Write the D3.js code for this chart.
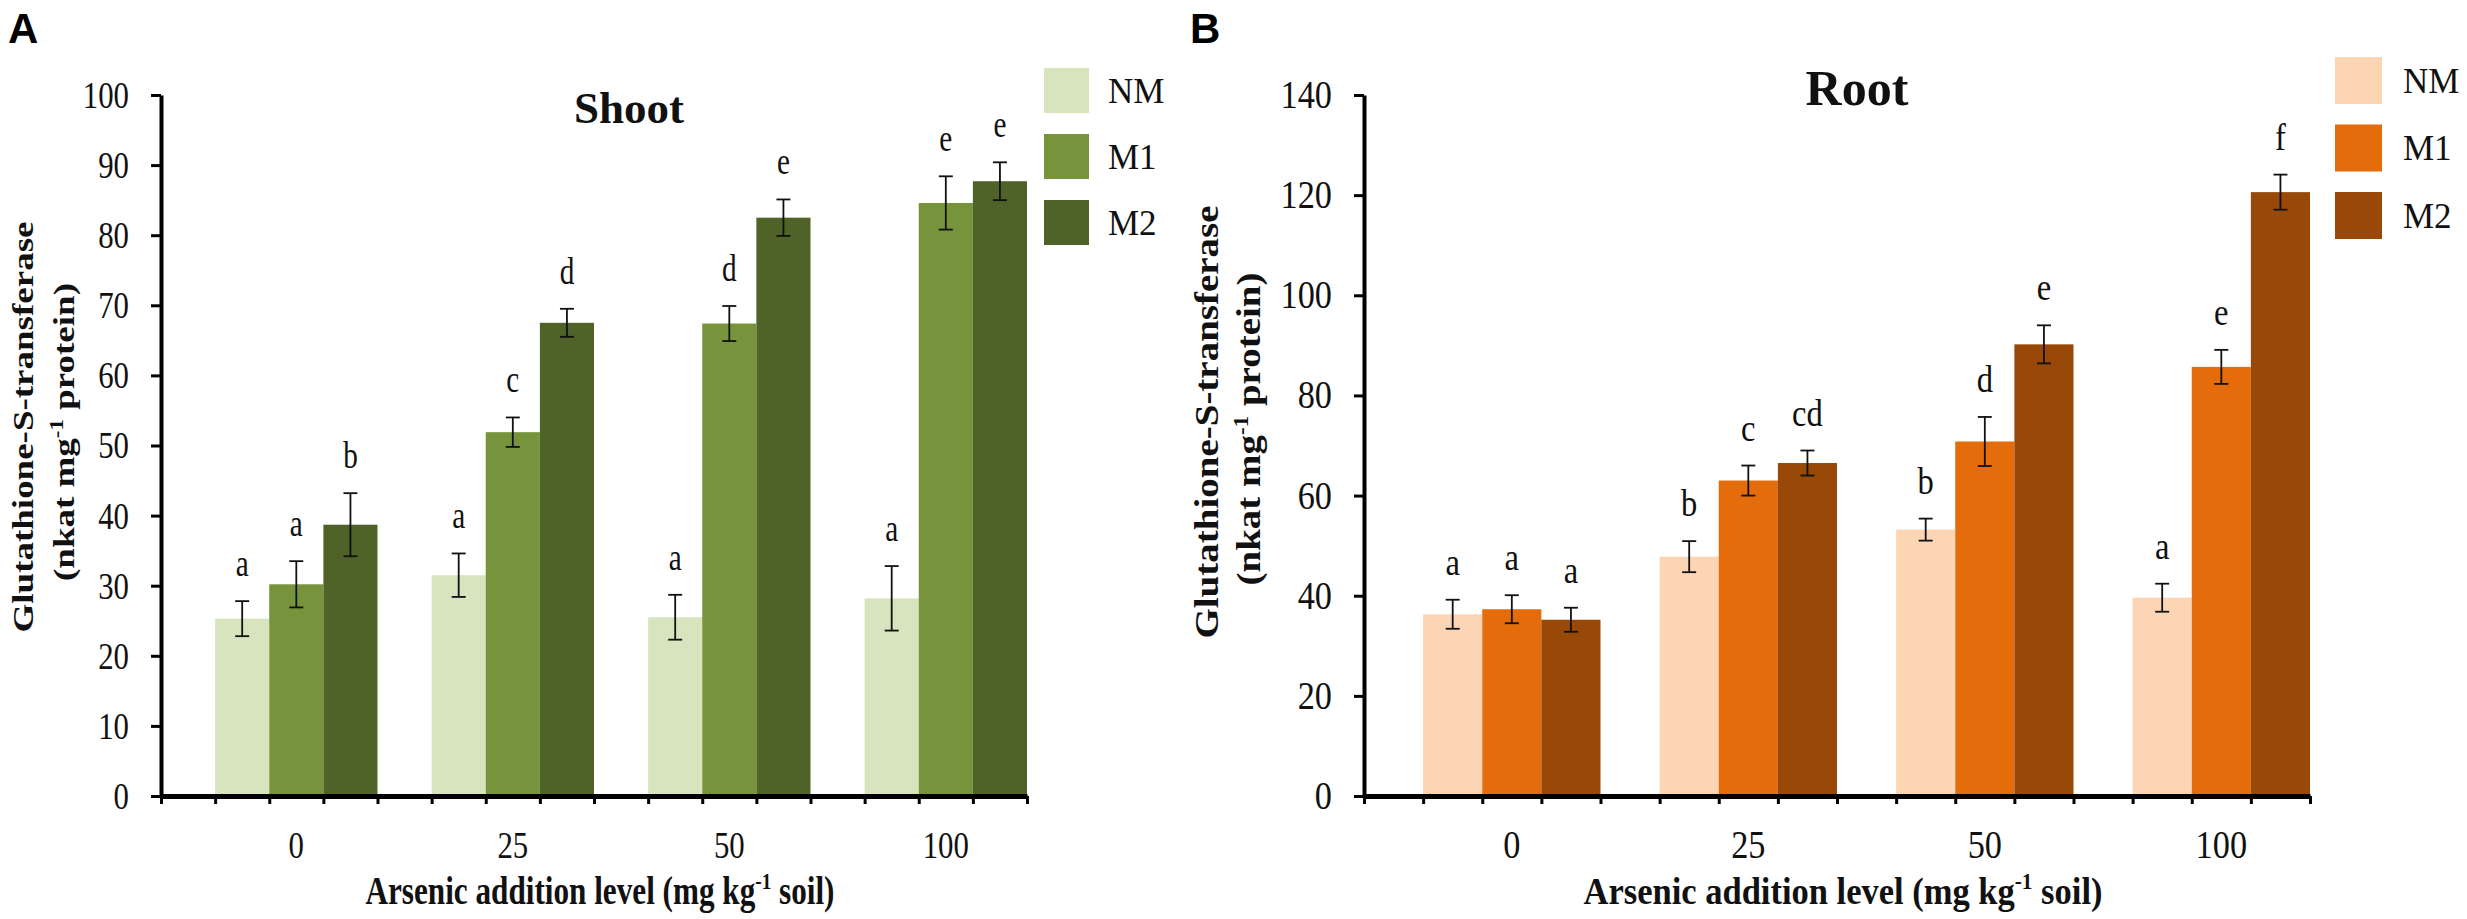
<!DOCTYPE html>
<html>
<head>
<meta charset="utf-8">
<script src="https://cdn.jsdelivr.net/npm/d3@7/dist/d3.min.js"></script>
<style>
  body { margin: 0; background: #fff; }
  svg { display: block; }
</style>
</head>
<body>
<div id="svg"></div>
<script>

// arsenic levels (x categories) and inoculation treatments
var levels = ["0", "25", "50", "100"];
var treatments = ["NM", "M1", "M2"];

// shoot, one row per treatment (NM, M1, M2), one column per level
var shootMean = [[25.3, 31.5, 25.5, 28.2],
                 [30.2, 51.9, 67.4, 84.6],
                 [38.7, 67.5, 82.5, 87.7]];
var shootErr = [[2.5, 3.1, 3.2, 4.6],
                [3.3, 2.1, 2.5, 3.8],
                [4.5, 2.0, 2.6, 2.7]];
var shootLetters = [["a", "a", "a", "a"],
                    ["a", "c", "d", "e"],
                    ["b", "d", "e", "e"]];
var shootTicks = [0, 10, 20, 30, 40, 50, 60, 70, 80, 90, 100];
var shootColors = ["#d7e4bd", "#77933c", "#4f6228"];

// root
var rootMean = [[36.3, 47.8, 53.2, 39.6],
                [37.3, 63.0, 70.8, 85.7],
                [35.2, 66.5, 90.2, 120.6]];
var rootErr = [[2.9, 3.1, 2.2, 2.8],
               [2.8, 3.0, 4.9, 3.4],
               [2.4, 2.5, 3.8, 3.5]];
var rootLetters = [["a", "b", "b", "a"],
                   ["a", "c", "d", "e"],
                   ["a", "cd", "e", "f"]];
var rootTicks = [0, 20, 40, 60, 80, 100, 120, 140];
var rootColors = ["#fcd5b5", "#e46c0a", "#984807"];


var W = 2467, H = 919;
var serif = "'Liberation Serif', 'Times New Roman', serif";
var sans = "'Liberation Sans', Arial, sans-serif";

var svg = d3.select("#svg").append("svg")
    .attr("width", W)
    .attr("height", H);

svg.append("rect")
    .attr("width", W)
    .attr("height", H)
    .attr("fill", "#fff");


// layout of the two panels (sq = horizontal squeeze of the text)
var panels = [
    {tag: "A", tagX: 8, title: "Shoot", titleX: 629, titleY: 123, titleSize: 45,
     x0: 161, x1: 1027, yTop: 95, yBot: 796, ticks: shootTicks,
     mean: shootMean, err: shootErr, letters: shootLetters, colors: shootColors,
     sq: 0.79, xtSq: 0.80, ytX: [33, 74], ytSize: 37, ytY: [427, 432],
     leg: {x: 1044, y: 68, size: 45, gap: 66, tx: 1108}},
    {tag: "B", tagX: 1190, title: "Root", titleX: 1857, titleY: 105, titleSize: 50,
     x0: 1364, x1: 2310, yTop: 95, yBot: 796, ticks: rootTicks,
     mean: rootMean, err: rootErr, letters: rootLetters, colors: rootColors,
     sq: 0.88, xtSq: 0.885, ytX: [1218, 1260], ytSize: 39, ytY: [422, 429],
     leg: {x: 2335, y: 57, size: 47, gap: 67.5, tx: 2403}}
];

panels.forEach(draw_panel);


function draw_panel(p) {
    var g = svg.append("g");
    var ymax = d3.max(p.ticks);

    var y = d3.scaleLinear()
        .domain([0, ymax])
        .range([p.yBot, p.yTop]);

    // groups take 4 slots: one empty slot on the left, then 3 bars
    var xg = d3.scaleBand()
        .domain(levels)
        .range([p.x0, p.x1])
        .paddingInner(0.25)
        .paddingOuter(0.125)
        .align(1);
    var xb = d3.scaleBand()
        .domain(treatments)
        .range([0, xg.bandwidth()]);
    var slots = d3.scaleLinear()
        .domain([0, 16])
        .range([p.x0, p.x1]);

    // bars, error bars and letters, one series at a time
    treatments.forEach(function(t, ti) {
        var rows = levels.map(function(l, li) {
            return {level: l, v: p.mean[ti][li], e: p.err[ti][li], lab: p.letters[ti][li]};
        });
        var sg = g.append("g");
        sg.selectAll("rect")
            .data(rows)
            .enter().append("rect")
            .attr("x", function(d) { return xg(d.level) + xb(t); })
            .attr("y", function(d) { return y(d.v); })
            .attr("width", xb.bandwidth())
            .attr("height", function(d) { return y(0) - y(d.v); })
            .attr("fill", p.colors[ti]);

        var cx = function(d) { return xg(d.level) + xb(t) + xb.bandwidth() / 2; };
        var eb = sg.selectAll("g.eb")
            .data(rows)
            .enter().append("g")
            .attr("class", "eb")
            .attr("stroke", "#111")
            .attr("stroke-width", 1.8);
        eb.append("line")
            .attr("x1", cx).attr("x2", cx)
            .attr("y1", function(d) { return y(d.v + d.e); })
            .attr("y2", function(d) { return y(d.v - d.e); });
        eb.append("line")
            .attr("x1", function(d) { return cx(d) - 7; })
            .attr("x2", function(d) { return cx(d) + 7; })
            .attr("y1", function(d) { return y(d.v + d.e); })
            .attr("y2", function(d) { return y(d.v + d.e); });
        eb.append("line")
            .attr("x1", function(d) { return cx(d) - 7; })
            .attr("x2", function(d) { return cx(d) + 7; })
            .attr("y1", function(d) { return y(d.v - d.e); })
            .attr("y2", function(d) { return y(d.v - d.e); });

        sg.selectAll("text")
            .data(rows)
            .enter().append("text")
            .attr("transform", function(d) {
                return "translate(" + cx(d) + "," + (y(d.v + d.e) - 25) + ") scale(" + p.sq + ",1)";
            })
            .attr("text-anchor", "middle")
            .attr("font-family", serif)
            .attr("font-size", 37)
            .attr("fill", "#111")
            .text(function(d) { return d.lab; });
    });

    // y axis
    var ya = g.append("g")
        .attr("transform", "translate(" + p.x0 + ",0)")
        .call(d3.axisLeft(y).tickValues(p.ticks).tickSize(10).tickSizeOuter(0));
    ya.select(".domain").attr("stroke", "#000").attr("stroke-width", 4);
    ya.selectAll(".tick line").attr("stroke", "#000").attr("stroke-width", 3);
    ya.selectAll(".tick text")
        .attr("font-family", serif)
        .attr("font-size", 39)
        .attr("fill", "#111")
        .attr("x", -32 / p.sq)
        .attr("transform", "scale(" + p.sq + ",1)");

    // x axis, a tick at every slot edge
    var xa = g.append("g")
        .attr("transform", "translate(0," + p.yBot + ")")
        .call(d3.axisBottom(slots).tickValues(d3.range(17)).tickFormat("").tickSize(8).tickSizeOuter(0));
    xa.select(".domain").attr("stroke", "#000").attr("stroke-width", 5);
    xa.selectAll(".tick line").attr("stroke", "#000").attr("stroke-width", 3);

    // category labels
    var xl = g.append("g")
        .attr("transform", "translate(0," + p.yBot + ")")
        .call(d3.axisBottom(xg).tickSize(0));
    xl.select(".domain").remove();
    xl.selectAll(".tick text")
        .attr("font-family", serif)
        .attr("font-size", 39)
        .attr("fill", "#111")
        .attr("dy", null)
        .attr("y", 62);
    xl.selectAll(".tick").each(function(d) {
        d3.select(this).attr("transform",
            "translate(" + (xg(d) + xg.bandwidth() / 2) + ",0) scale(" + p.sq + ",1)");
    });

    // x axis title
    var xt = g.append("text")
        .attr("transform", "translate(" + ((p.x0 + p.x1) / 2 + 6) + "," + (p.yBot + 108) + ") scale(" + p.xtSq + ",1)")
        .attr("text-anchor", "middle")
        .attr("font-family", serif)
        .attr("font-weight", "bold")
        .attr("font-size", 39)
        .attr("fill", "#111");
    xt.append("tspan").text("Arsenic addition level (mg kg");
    xt.append("tspan").attr("font-size", 24).attr("dy", -15).text("-1");
    xt.append("tspan").attr("dy", 15).text(" soil)");

    // y axis title, two lines
    g.append("text")
        .attr("transform", "translate(" + p.ytX[0] + "," + p.ytY[0] + ") rotate(-90) scale(1," + p.sq + ")")
        .attr("text-anchor", "middle")
        .attr("font-family", serif)
        .attr("font-weight", "bold")
        .attr("font-size", p.ytSize)
        .attr("fill", "#111")
        .text("Glutathione-S-transferase");
    var yt2 = g.append("text")
        .attr("transform", "translate(" + p.ytX[1] + "," + p.ytY[1] + ") rotate(-90) scale(1," + p.sq + ")")
        .attr("text-anchor", "middle")
        .attr("font-family", serif)
        .attr("font-weight", "bold")
        .attr("font-size", p.ytSize)
        .attr("fill", "#111");
    yt2.append("tspan").text("(nkat mg");
    yt2.append("tspan").attr("font-size", 23).attr("dy", -14).text("-1");
    yt2.append("tspan").attr("dy", 14).text(" protein)");

    // panel title
    g.append("text")
        .attr("x", p.titleX)
        .attr("y", p.titleY)
        .attr("text-anchor", "middle")
        .attr("font-family", serif)
        .attr("font-weight", "bold")
        .attr("font-size", p.titleSize)
        .attr("fill", "#111")
        .text(p.title);

    // panel letter
    g.append("text")
        .attr("x", p.tagX)
        .attr("y", 43)
        .attr("font-family", sans)
        .attr("font-weight", "bold")
        .attr("font-size", 42)
        .attr("fill", "#000")
        .text(p.tag);

    // legend
    var lg = g.append("g")
        .attr("transform", "translate(" + p.leg.x + "," + p.leg.y + ")");
    var li = lg.selectAll("g")
        .data(treatments)
        .enter().append("g")
        .attr("transform", function(d, i) { return "translate(0," + i * p.leg.gap + ")"; });
    li.append("rect")
        .attr("width", p.leg.size)
        .attr("height", p.leg.size)
        .attr("fill", function(d, i) { return p.colors[i]; });
    li.append("text")
        .attr("x", p.leg.tx - p.leg.x)
        .attr("y", p.leg.size / 2 + 12)
        .attr("font-family", serif)
        .attr("font-size", 35)
        .attr("fill", "#111")
        .text(function(d) { return d; });
}

</script>
</body>
</html>
